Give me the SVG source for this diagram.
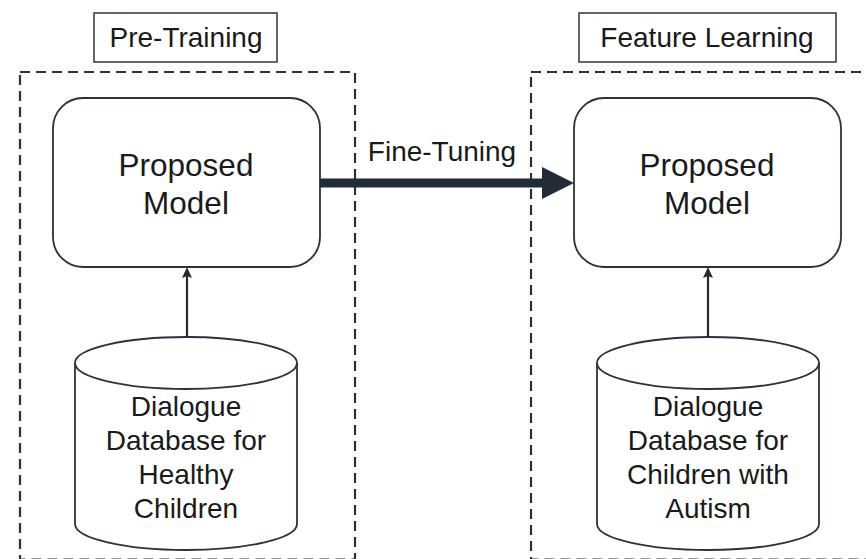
<svg xmlns="http://www.w3.org/2000/svg" width="866" height="559" viewBox="0 0 866 559">
<style>
text{font-family:"Liberation Sans",Arial,sans-serif;font-size:28px;fill:#1a1a1a;text-anchor:middle}
.big{font-size:31.5px}
.lbl{fill:#fff;stroke:#333;stroke-width:1.5}
.dash{fill:none;stroke:#2b323c;stroke-width:2.2;stroke-dasharray:10 6}
.node{fill:#fff;stroke:#2b323c;stroke-width:1.8}
.conn{stroke:#232b36;fill:none}
</style>
<rect width="866" height="559" fill="#fff"/>
<g id="pretraining-label"><rect class="lbl" x="94" y="13" width="183" height="49"/><text x="186" y="47">Pre-Training</text></g>
<g id="feature-label"><rect class="lbl" x="579" y="13" width="257" height="49"/><text x="707" y="47">Feature Learning</text></g>
<g id="pretraining-group"><rect class="dash" x="20" y="72" width="335" height="487.5"/></g>
<g id="feature-group"><rect class="dash" x="531" y="72" width="360" height="487.5"/></g>
<g id="model-left"><rect class="node" x="53" y="98" width="267" height="169" rx="30"/><text class="big" x="186" y="176">Proposed</text><text class="big" x="186" y="214">Model</text></g>
<g id="model-right"><rect class="node" x="574" y="98" width="267" height="169" rx="30"/><text class="big" x="707" y="176">Proposed</text><text class="big" x="707" y="214">Model</text></g>
<g id="db-left"><path class="node" d="M75,363 L75,524 A111,26 0 0 0 297,524 L297,363"/><ellipse class="node" cx="186" cy="363" rx="111" ry="26"/>
<text x="186" y="416">Dialogue</text><text x="186" y="450">Database for</text><text x="186" y="484">Healthy</text><text x="186" y="518">Children</text></g>
<g id="db-right"><path class="node" d="M597,363 L597,524 A111,26 0 0 0 819,524 L819,363"/><ellipse class="node" cx="708" cy="363" rx="111" ry="26"/>
<text x="708" y="416">Dialogue</text><text x="708" y="450">Database for</text><text x="708" y="484">Children with</text><text x="708" y="518">Autism</text></g>
<g id="connectors">
<line class="conn" x1="320" y1="183" x2="544" y2="183" stroke-width="9"/>
<path d="M542,167 L574,183 L542,199 Z" fill="#232b36"/>
<text x="442" y="161">Fine-Tuning</text>
<line class="conn" x1="187" y1="337" x2="187" y2="275" stroke-width="2.2"/>
<path d="M187,267 L192,278 L187,276 L182,278 Z" fill="#232b36"/>
<line class="conn" x1="708" y1="337" x2="708" y2="275" stroke-width="2.2"/>
<path d="M708,267 L713,278 L708,276 L703,278 Z" fill="#232b36"/>
</g>
</svg>
